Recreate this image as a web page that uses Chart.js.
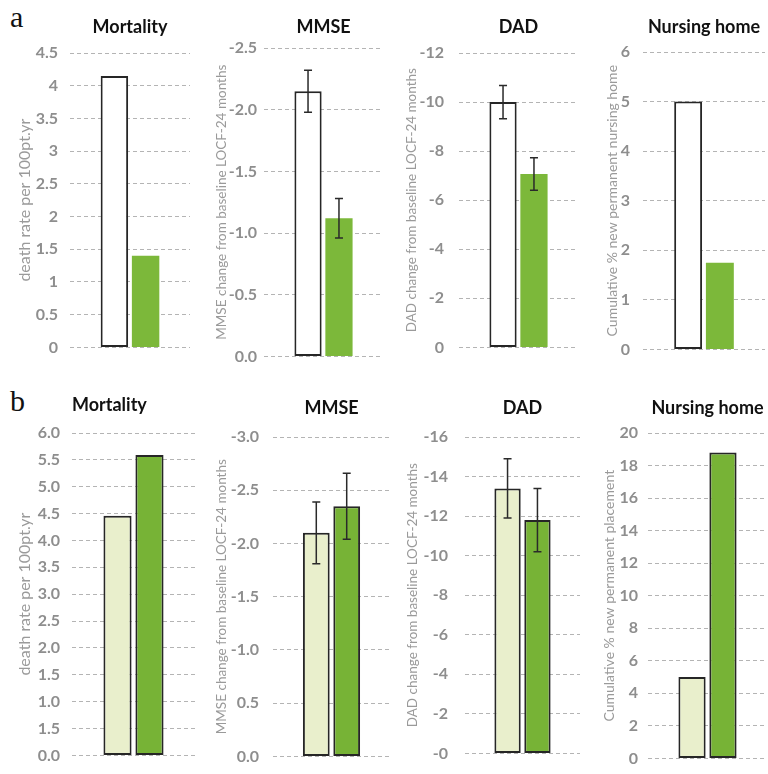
<!DOCTYPE html>
<html>
<head>
<meta charset="utf-8">
<script src="https://cdn.jsdelivr.net/npm/chart.js@4.4.0/dist/chart.umd.min.js"></script>
<style>
  body { margin: 0; background: #ffffff; }
  #tela { position: relative; width: 768px; height: 774px; overflow: hidden; }
  .painel { position: absolute; }
  .letra { position: absolute; font-family: "Liberation Serif", serif; font-size: 30px; color: #111; }
</style>
</head>
<body>
<div id="tela">
  <div class="letra" style="left:10px; top:0px;">a</div>
  <div class="letra" style="left:10px; top:384px;">b</div>
</div>
<script>
// categorias e valores
let grupos = ["Controle", "Intervencao"];
let titulos = ["Mortality", "MMSE", "DAD", "Nursing home"];
let eixosA = [
  "death rate per 100pt.yr",
  "MMSE change from baseline LOCF-24 months",
  "DAD change from baseline LOCF-24 months",
  "Cumulative % new permanent nursing home",
];
let eixosB = [
  "death rate per 100pt.yr",
  "MMSE change from baseline LOCF-24 months",
  "DAD change from baseline LOCF-24 months",
  "Cumulative % new permanent placement",
];

let mortalidadeA = [4.15, 1.4];
let mmseA = [-2.15, -1.12];
let mmseErroA = [0.17, 0.16];
let dadA = [-10.0, -7.07];
let dadErroA = [0.68, 0.66];
let asiloA = [5.0, 1.75];

let mortalidadeB = [4.46, 5.59];
let mmseB = [-2.1, -2.35];
let mmseErroB = [0.29, 0.31];
let dadB = [-13.4, -11.8];
let dadErroB = [1.5, 1.6];
let asiloB = [5.0, 18.8];

// rotulos dos ticks, do menor valor para o maior
let ticksMortA = ["0", "0.5", "1", "1.5", "2", "2.5", "3", "3.5", "4", "4.5"];
let ticksMmseA = ["-2.5", "-2.0", "-1.5", "-1.0", "-0.5", "0.0"];
let ticksDadA = ["-12", "-10", "-8", "-6", "-4", "-2", "0"];
let ticksAsiloA = ["0", "1", "2", "3", "4", "5", "6"];
let ticksMortB = ["0.0", "1.5", "1.0", "1.5", "2.0", "2.5", "3.0", "3.5", "4.0", "4.5", "5.0", "5.5", "6.0"];
let ticksMmseB = ["-3.0", "-2.5", "-2.0", "-1.5", "-1.0", "0.5", "0.0"];
let ticksDadB = ["-16", "-14", "-12", "-10", "-8", "-6", "-4", "-2", "-0"];
let ticksAsiloB = ["0", "2", "4", "6", "8", "10", "12", "14", "16", "18", "20"];

const VERDE = "#7cb83a";
const VERDE_B = "#77b336";
const CLARO = "#e9efcc";
const BORDA = "#262626";

// posicoes dos paineis: area do grafico, titulo, rotulos
let paineis = [
  { top: 0, plotL: 70, plotR: 190, plotT: 53, plotB: 357, tituloY: 27, eixoX: 25, labelR: 58, eixoFonte: 16, alinha: "center" },
  { top: 0, plotL: 264, plotR: 383, plotT: 48, plotB: 361, tituloY: 27, eixoX: 222, labelR: 257, eixoFonte: 13.5, alinha: "center" },
  { top: 0, plotL: 459, plotR: 578, plotT: 53, plotB: 360, tituloY: 27, eixoX: 412, labelR: 444, eixoFonte: 13.5, alinha: "center" },
  { top: 0, plotL: 643, plotR: 765, plotT: 52, plotB: 360, tituloY: 27, eixoX: 612, labelR: 630, eixoFonte: 14, alinha: "center" },
  { top: 380, plotL: 72, plotR: 195, plotT: 433, plotB: 765, tituloY: 405, eixoX: 25, labelR: 60, eixoFonte: 16, alinha: "start" },
  { top: 380, plotL: 273, plotR: 390, plotT: 437, plotB: 768, tituloY: 408, eixoX: 222, labelR: 259, eixoFonte: 13.5, alinha: "center" },
  { top: 380, plotL: 465, plotR: 580, plotT: 437, plotB: 768, tituloY: 408, eixoX: 413, labelR: 448, eixoFonte: 13.5, alinha: "center" },
  { top: 380, plotL: 648, plotR: 767, plotT: 433, plotB: 766, tituloY: 408, eixoX: 609, labelR: 638, eixoFonte: 14, alinha: "center" },
];

// barras de erro desenhadas pela escala y
const pluginErro = {
  id: "barraErro",
  afterDatasetsDraw(chart) {
    let erros = chart.options.plugins.barraErro.erros;
    if (!erros) return;
    let ctx = chart.ctx;
    let y = chart.scales.y;
    ctx.save();
    ctx.strokeStyle = "#2a2a2a";
    ctx.lineWidth = 1.5;
    chart.data.datasets.forEach((ds, i) => {
      let bar = chart.getDatasetMeta(i).data[0];
      let v = ds.data[0];
      let y1 = y.getPixelForValue(v - erros[i]);
      let y2 = y.getPixelForValue(v + erros[i]);
      ctx.beginPath();
      ctx.moveTo(bar.x, y1);
      ctx.lineTo(bar.x, y2);
      ctx.moveTo(bar.x - 4, y1);
      ctx.lineTo(bar.x + 4, y1);
      ctx.moveTo(bar.x - 4, y2);
      ctx.lineTo(bar.x + 4, y2);
      ctx.stroke();
    });
    ctx.restore();
  },
};

function criarPainel(idx, titulo, eixo, valores, erros, min, max, passo, rotulos, linhaB) {
  let p = paineis[idx];
  let esquerda = p.eixoX - 14;
  let largura = p.plotR - esquerda + 1;
  let altura = p.plotB + 12 - p.top;
  let larguraEixo = p.plotL - esquerda;
  let negativo = max <= 0;
  let lh = p.eixoFonte * 1.2;

  let div = document.createElement("div");
  div.className = "painel";
  div.style.left = esquerda + "px";
  div.style.top = p.top + "px";
  div.innerHTML = `<canvas id="c${idx}" width="${largura}" height="${altura}"></canvas>`;
  document.getElementById("tela").appendChild(div);

  let cores = linhaB ? [CLARO, VERDE_B] : ["#ffffff", VERDE];
  let bordas = linhaB ? [2, 2] : [2, 0];

  new Chart(document.getElementById(`c${idx}`), {
    type: "bar",
    data: {
      labels: [titulo],
      datasets: grupos.map((g, i) => ({
        label: g,
        data: [valores[i]],
        backgroundColor: cores[i],
        borderColor: BORDA,
        borderWidth: bordas[i],
        borderSkipped: false,
        categoryPercentage: 0.52,
        barPercentage: 0.88,
      })),
    },
    options: {
      responsive: false,
      animation: false,
      layout: { padding: { left: 0, right: 1, top: 0, bottom: 12 } },
      plugins: {
        legend: { display: false },
        tooltip: { enabled: false },
        title: {
          display: true,
          text: titulo,
          fullSize: false,
          align: p.alinha,
          color: "#111111",
          font: { family: "Lato", size: 18, weight: "bold", lineHeight: 1.2 },
          padding: {
            top: p.tituloY - p.top - 10.8,
            bottom: p.plotT - p.tituloY - 10.8,
          },
        },
        barraErro: { erros: erros },
      },
      scales: {
        x: { display: false },
        y: {
          min: min,
          max: max,
          reverse: negativo,
          z: linhaB ? 1 : 0,
          afterFit: (s) => { s.width = larguraEixo; },
          grid: {
            color: "#b4b4b4",
            lineWidth: 1,
            drawTicks: false,
          },
          border: { display: false, dash: [4, 3] },
          ticks: {
            stepSize: passo,
            padding: p.plotL - p.labelR,
            color: "#8e8e8e",
            font: { family: "Lato", size: 16, weight: "bold" },
            callback: (v) => rotulos[Math.round((v - min) / passo)],
          },
          title: {
            display: true,
            text: eixo,
            color: "#9a9a9a",
            font: { family: "Lato", size: p.eixoFonte, lineHeight: 1.2 },
            padding: { top: 14 - lh / 2, bottom: 0 },
          },
        },
      },
    },
    plugins: [pluginErro],
  });
}

criarPainel(0, titulos[0], eixosA[0], mortalidadeA, null, 0, 4.5, 0.5, ticksMortA, false);
criarPainel(1, titulos[1], eixosA[1], mmseA, mmseErroA, -2.5, 0, 0.5, ticksMmseA, false);
criarPainel(2, titulos[2], eixosA[2], dadA, dadErroA, -12, 0, 2, ticksDadA, false);
criarPainel(3, titulos[3], eixosA[3], asiloA, null, 0, 6, 1, ticksAsiloA, false);
criarPainel(4, titulos[0], eixosB[0], mortalidadeB, null, 0, 6, 0.5, ticksMortB, true);
criarPainel(5, titulos[1], eixosB[1], mmseB, mmseErroB, -3, 0, 0.5, ticksMmseB, true);
criarPainel(6, titulos[2], eixosB[2], dadB, dadErroB, -16, 0, 2, ticksDadB, true);
criarPainel(7, titulos[3], eixosB[3], asiloB, null, 0, 20, 2, ticksAsiloB, true);
</script>
</body>
</html>
